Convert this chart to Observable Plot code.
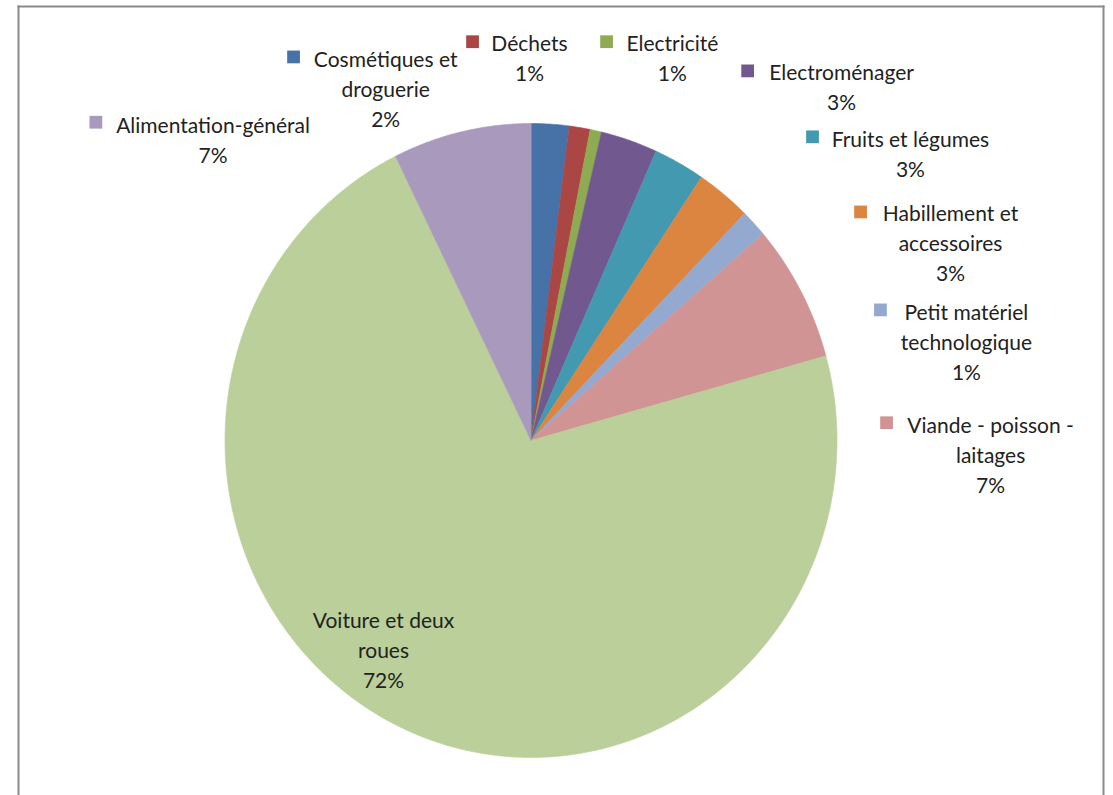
<!DOCTYPE html>
<html>
<head>
<meta charset="utf-8">
<script src="https://cdn.jsdelivr.net/npm/d3@7"></script>
<script src="https://cdn.jsdelivr.net/npm/@observablehq/plot@0.6"></script>
<style>
  html, body { margin: 0; padding: 0; background: #fff; overflow: hidden; }
</style>
</head>
<body>
<div id="chart"></div>
<script>
// ---------- data ----------
const categories = [
  "Cosmétiques et droguerie", "Déchets", "Electricité", "Electroménager",
  "Fruits et légumes", "Habillement et accessoires", "Petit matériel technologique",
  "Viande - poisson - laitages", "Voiture et deux roues", "Alimentation-général"
];
const shares = [2.0, 1.1, 0.6, 3.0, 2.7, 2.9, 1.4, 7.0, 72.0, 7.3];
const labelLines = [
  "Cosmétiques et\ndroguerie", "Déchets", "Electricité", "Electroménager",
  "Fruits et légumes", "Habillement et\naccessoires", "Petit matériel\ntechnologique",
  "Viande - poisson -\nlaitages", "Voiture et deux\nroues", "Alimentation-général"
];
const colors = [
  "#4672a8", "#aa4644", "#8fab51", "#71598f", "#4399b0",
  "#db8540", "#94a9cf", "#d19494", "#bacf99", "#a99abd"
];

// ---------- layout (pie in unit-radius coordinates) ----------
const W = 1113, H = 795;
const margin = {top: 6, left: 18, right: 10, bottom: 0};
const pie = {cx: 530.5, cy: 440, rx: 306, ry: 317};
const fontSize = 21, lineHeightPx = 30;
// centre of the first line of each label (unit coords)
const labelAnchor = [
  [-0.475, 1.208], [-0.005, 1.259], [0.462, 1.259], [1.015, 1.167],
  [1.240, 0.956], [1.371, 0.722], [1.423, 0.410], [1.502, 0.053],
  [-0.482, -0.562], [-1.039, 1.000]
];
// legend key square beside each label (null = none)
const markerAnchor = [
  [-0.776, 1.210], [-0.191, 1.258], [0.247, 1.258], [0.708, 1.166],
  [0.920, 0.958], [1.077, 0.721], [1.142, 0.412], [1.162, 0.056],
  null, [-1.422, 1.004]
];

// ---------- geometry from the data ----------
const total = d3.sum(shares);
const arcs = d3.pie().sort(null).startAngle(0).endAngle(2 * Math.PI)(shares);
const slicePts = [];
arcs.forEach((a, i) => {
  const name = categories[i];
  slicePts.push({name, x: 0, y: 0});
  const n = Math.max(2, Math.ceil((a.endAngle - a.startAngle) / (Math.PI / 360)));
  for (let k = 0; k <= n; k++) {
    const t = a.startAngle + (a.endAngle - a.startAngle) * k / n;
    slicePts.push({name, x: Math.sin(t), y: Math.cos(t)});
  }
});

const labels = categories.map((name, i) => {
  const txt = labelLines[i] + "\n" + Math.round(shares[i] / total * 100) + "%";
  const nLines = txt.split("\n").length;
  return {
    name, text: txt,
    x: labelAnchor[i][0],
    y: labelAnchor[i][1] - (nLines - 1) * lineHeightPx / 2 / pie.ry
  };
});
const markers = categories
  .map((name, i) => markerAnchor[i] ? {name, x: markerAnchor[i][0], y: markerAnchor[i][1]} : null)
  .filter(d => d);

const border = {stroke: "#8a8a8a", strokeWidth: 2};

const chart = Plot.plot({
  width: W, height: H,
  marginTop: margin.top, marginLeft: margin.left,
  marginRight: margin.right, marginBottom: margin.bottom,
  x: {domain: [(margin.left - pie.cx) / pie.rx, (W - margin.right - pie.cx) / pie.rx], axis: null},
  y: {domain: [(pie.cy - (H - margin.bottom)) / pie.ry, (pie.cy - margin.top) / pie.ry], axis: null},
  color: {domain: categories, range: colors},
  style: {fontFamily: "Lato, 'Open Sans', sans-serif", background: "#fff", overflow: "hidden"},
  marks: [
    Plot.frame({anchor: "top", ...border}),
    Plot.frame({anchor: "left", ...border}),
    Plot.frame({anchor: "right", ...border}),
    Plot.line(slicePts, {x: "x", y: "y", z: "name", fill: "name", stroke: "name",
      strokeWidth: 0.6, curve: "linear-closed"}),
    Plot.dot(markers, {x: "x", y: "y", fill: "name", symbol: "square", r: 7.2}),
    Plot.text(labels, {x: "x", y: "y", text: "text", textAnchor: "middle",
      lineAnchor: "middle", lineHeight: lineHeightPx / fontSize,
      fontSize, fill: "#222"})
  ]
});
document.getElementById("chart").appendChild(chart);
</script>
</body>
</html>
